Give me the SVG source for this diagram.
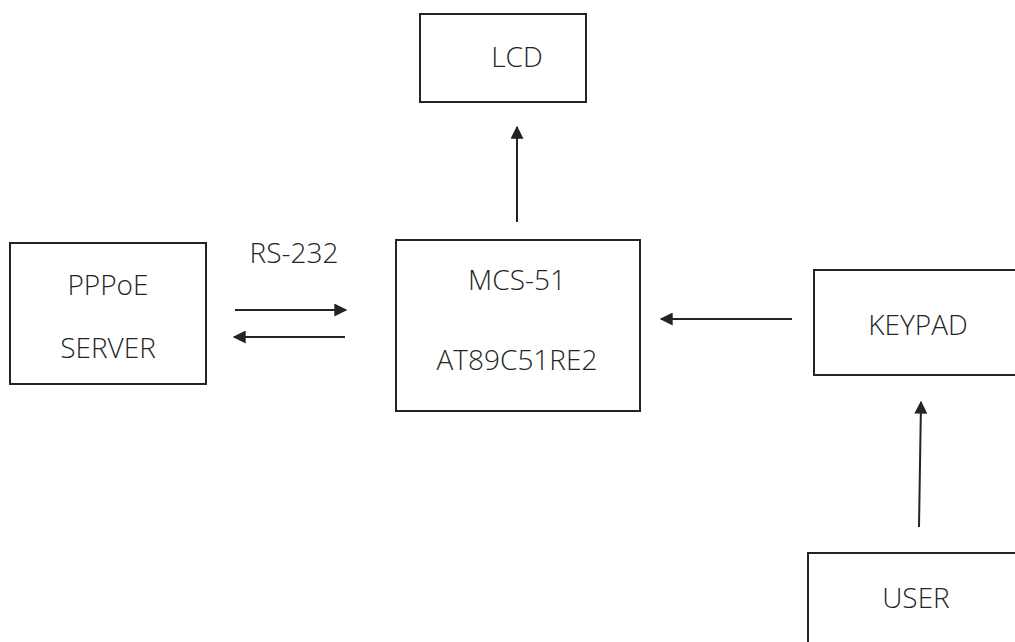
<svg xmlns="http://www.w3.org/2000/svg" width="1015" height="642" viewBox="0 0 1015 642">
<style>
.box{fill:none;stroke:#1f2624;stroke-width:2}
.lbl{font-family:"Open Sans","Noto Sans","DejaVu Sans",sans-serif;font-size:28px;font-weight:300;fill:#1f2624;text-anchor:middle}
.con{stroke:#1f2624;stroke-width:2;fill:none;marker-end:url(#ah)}
</style>
<defs>
<marker id="ah" viewBox="0 0 10 10" refX="9" refY="5" markerUnits="userSpaceOnUse" markerWidth="15" markerHeight="13" orient="auto">
<path d="M0,0 L10,5 L0,10 z" fill="#1f2624"/>
</marker>
</defs>
<rect width="1015" height="642" fill="#ffffff"/>
<g id="lcd">
<rect class="box" x="420" y="14" width="166" height="88"/>
<text class="lbl" x="517" y="67">LCD</text>
</g>
<g id="pppoe">
<rect class="box" x="10" y="243" width="196" height="141"/>
<text class="lbl" x="108" y="295">PPPoE</text>
<text class="lbl" x="108" y="358">SERVER</text>
</g>
<g id="mcs">
<rect class="box" x="396" y="240" width="244" height="171"/>
<text class="lbl" x="517" y="290">MCS-51</text>
<text class="lbl" x="517" y="370">AT89C51RE2</text>
</g>
<g id="keypad">
<rect class="box" x="814" y="270" width="210" height="105"/>
<text class="lbl" x="918" y="335">KEYPAD</text>
</g>
<g id="user">
<rect class="box" x="808" y="553" width="220" height="100"/>
<text class="lbl" x="916" y="608">USER</text>
</g>
<text class="lbl" x="294" y="263">RS-232</text>
<g id="connectors">
<line class="con" x1="517" y1="222" x2="517" y2="127"/>
<line class="con" x1="235" y1="310" x2="346" y2="310"/>
<line class="con" x1="345" y1="337" x2="234" y2="337"/>
<line class="con" x1="792" y1="319" x2="661" y2="319"/>
<line class="con" x1="919" y1="527" x2="921" y2="402"/>
</g>
</svg>
